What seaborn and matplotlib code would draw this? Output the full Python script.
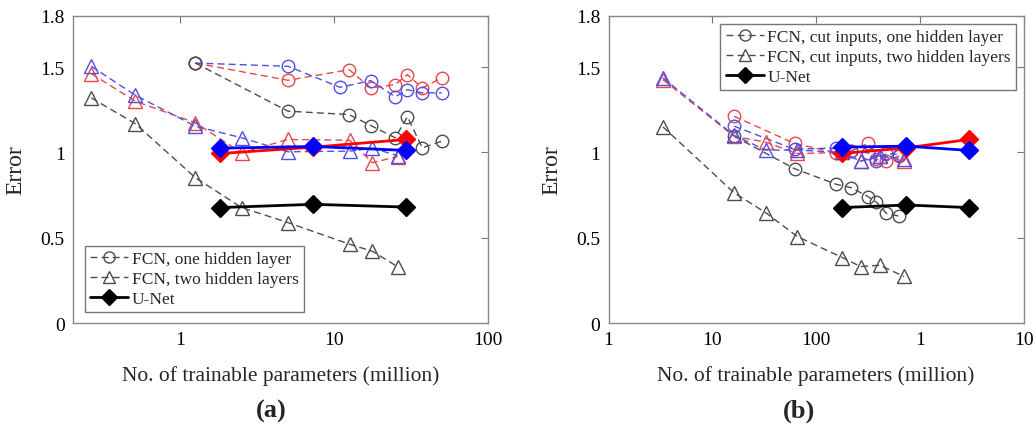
import matplotlib
matplotlib.use("Agg")
import matplotlib.pyplot as plt
import seaborn as sns
import pandas as pd
from matplotlib.lines import Line2D

# ---------------- data: panel (a) ----------------
a_c1_x = [1.25, 5.0, 12.5, 17.3, 24.9, 29.9, 37.4, 50.0]
a_c1_black = [1.524, 1.242, 1.222, 1.158, 1.086, 1.209, 1.027, 1.066]
a_c1_blue = [1.524, 1.505, 1.382, 1.421, 1.326, 1.368, 1.349, 1.349]
a_c1_red = [1.524, 1.423, 1.485, 1.378, 1.398, 1.456, 1.378, 1.437]
a_c1_blue_x = [1.25, 5.0, 10.9, 17.3, 24.9, 29.9, 37.4, 50.0]

a_t2_x = [0.263, 0.51, 1.25, 2.5, 5.0, 12.6, 17.7, 25.8]
a_t2_black = [1.32, 1.168, 0.852, 0.677, 0.589, 0.462, 0.421, 0.331]
a_t2_blue = [1.505, 1.335, 1.154, 1.086, 1.004, 1.008, 1.025, 0.982]
a_t2_red = [1.462, 1.30, 1.174, 0.998, 1.076, 1.072, 0.94, 0.976]

a_unet_x = [1.82, 7.3, 29.2]
a_unet_black = [0.677, 0.696, 0.68]
a_unet_red = [0.994, 1.031, 1.076]
a_unet_blue = [1.025, 1.035, 1.012]

# ---------------- data: panel (b) ----------------
b_c1_x = [16.2, 62.0, 157, 219, 317, 381, 476, 630]
b_c1_black = [1.095, 0.905, 0.813, 0.793, 0.741, 0.709, 0.643, 0.627]
b_c1_blue = [1.154, 1.018, 1.027, 1.008, 0.998, 0.949, 0.994, 0.988]
b_c1_red = [1.212, 1.053, 0.998, 1.01, 1.053, 0.96, 0.95, 0.98]

b_t2_x = [3.34, 16.2, 32.7, 66, 179, 269, 410, 705]
b_t2_black = [1.15, 0.764, 0.647, 0.507, 0.384, 0.331, 0.339, 0.273]
b_t2_blue = [1.437, 1.10, 1.014, 1.014, 1.0, 0.949, 0.982, 0.962]
b_t2_red = [1.427, 1.095, 1.06, 0.994, 1.0, 0.949, 0.98, 0.949]

b_unet_x = [179, 743, 2960]
b_unet_black = [0.677, 0.692, 0.677]
b_unet_red = [0.994, 1.027, 1.076]
b_unet_blue = [1.031, 1.037, 1.012]

y_ticks = [0, 0.5, 1, 1.5, 1.8]
y_ticklabels = ["0", "0.5", "1", "1.5", "1.8"]
a_xticks = [1, 10, 100]
a_xticklabels = ["1", "10", "100"]
b_xticks = [1, 10, 100, 1000, 10000]
b_xticklabels = ["1", "10", "100", "1", "10"]
xlabel = "No. of trainable parameters (million)"
ylabel = "Error"
a_legend = ["FCN, one hidden layer", "FCN, two hidden layers", "U-Net"]
b_legend = ["FCN, cut inputs, one hidden layer", "FCN, cut inputs, two hidden layers", "U-Net"]

# ---------------- style ----------------
sns.set_theme(style="white")
plt.rcParams["font.family"] = ["Liberation Serif", "DejaVu Serif"]

GRAY = "#4d4d4d"
RED_L = "#e8474a"
BLUE_L = "#4f4fe6"

fig = plt.figure(figsize=(10.35, 4.35), dpi=100)
axA = fig.add_axes([0.0705, 0.255, 0.401, 0.706])
axB = fig.add_axes([0.588, 0.255, 0.401, 0.706])


def draw(ax, x, y, color, marker, ls, lw, ms, mfc=None, z=2):
    df = pd.DataFrame({"x": x, "y": y})
    sns.lineplot(data=df, x="x", y="y", ax=ax, estimator=None, sort=False,
                 color=color, marker=marker, linestyle=ls, linewidth=lw,
                 markersize=ms, markerfacecolor=(mfc if mfc else "none"),
                 markeredgecolor=color, markeredgewidth=1.0, zorder=z,
                 legend=False)


def panel(ax, c1x, c1k, c1b, c1r, t2x, t2k, t2b, t2r, ux, uk, ur, ub, c1bx=None):
    if c1bx is None:
        c1bx = c1x
    dash = (0, (5, 3))
    draw(ax, c1x, c1r, RED_L, "o", dash, 1.0, 9)
    draw(ax, c1bx, c1b, BLUE_L, "o", dash, 1.0, 9)
    draw(ax, c1x, c1k, GRAY, "o", dash, 1.0, 9)
    draw(ax, t2x, t2r, RED_L, "^", dash, 1.0, 9.5)
    draw(ax, t2x, t2b, BLUE_L, "^", dash, 1.0, 9.5)
    draw(ax, t2x, t2k, GRAY, "^", dash, 1.0, 9.5)
    draw(ax, ux, uk, "black", "D", "-", 2.0, 9.5, mfc="black", z=3)
    draw(ax, ux, ur, "#ff0000", "D", "-", 2.0, 9.5, mfc="#ff0000", z=3)
    draw(ax, ux, ub, "#0000ff", "D", "-", 2.0, 9.5, mfc="#0000ff", z=4)


panel(axA, a_c1_x, a_c1_black, a_c1_blue, a_c1_red,
      a_t2_x, a_t2_black, a_t2_blue, a_t2_red,
      a_unet_x, a_unet_black, a_unet_red, a_unet_blue, c1bx=a_c1_blue_x)
panel(axB, b_c1_x, b_c1_black, b_c1_blue, b_c1_red,
      b_t2_x, b_t2_black, b_t2_blue, b_t2_red,
      b_unet_x, b_unet_black, b_unet_red, b_unet_blue)

for ax, xt, xtl, xl in [(axA, a_xticks, a_xticklabels, (0.2, 100)),
                        (axB, b_xticks, b_xticklabels, (1, 10000))]:
    ax.set_xscale("log")
    ax.set_xlim(*xl)
    ax.set_ylim(0, 1.8)
    ax.set_xticks(xt)
    ax.set_xticklabels(xtl)
    ax.xaxis.set_minor_locator(matplotlib.ticker.NullLocator())
    ax.set_yticks(y_ticks)
    ax.set_yticklabels(y_ticklabels)
    ax.tick_params(axis="both", which="major", direction="in", length=5,
                   width=0.8, color="#777777", labelsize=14, labelcolor="black",
                   top=True, right=True, pad=6)
    for s in ax.spines.values():
        s.set_color("#888888")
        s.set_linewidth(1.0)
    ax.set_xlabel(xlabel, fontsize=15.5, labelpad=12)
    ax.set_ylabel(ylabel, fontsize=17, labelpad=10)


def handles():
    return [
        Line2D([], [], color=GRAY, linestyle=(0, (5, 3)), linewidth=1.0, marker="o",
               markersize=8, markerfacecolor="none", markeredgecolor=GRAY),
        Line2D([], [], color=GRAY, linestyle=(0, (5, 3)), linewidth=1.0, marker="^",
               markersize=8.5, markerfacecolor="none", markeredgecolor=GRAY),
        Line2D([], [], color="black", linestyle="-", linewidth=2.0, marker="D",
               markersize=8, markerfacecolor="black"),
    ]


legA = axA.legend(handles(), a_legend, loc="lower left", bbox_to_anchor=(0.02, 0.025),
                  fontsize=12.5, frameon=True, fancybox=False, handlelength=2.2,
                  handletextpad=0.2, borderpad=0.3, labelspacing=0.2, borderaxespad=0.2)
legB = axB.legend(handles(), b_legend, loc="upper right", bbox_to_anchor=(0.99, 0.985),
                  fontsize=12.5, frameon=True, fancybox=False, handlelength=2.2,
                  handletextpad=0.2, borderpad=0.3, labelspacing=0.2, borderaxespad=0.2)
for leg in (legA, legB):
    leg.get_frame().set_edgecolor("#555555")
    leg.get_frame().set_linewidth(1.0)

fig.text(0.262, 0.055, "(a)", fontsize=19, fontweight="bold", ha="center", va="center")
fig.text(0.772, 0.055, "(b)", fontsize=19, fontweight="bold", ha="center", va="center")

fig.savefig("out.png", dpi=100)
